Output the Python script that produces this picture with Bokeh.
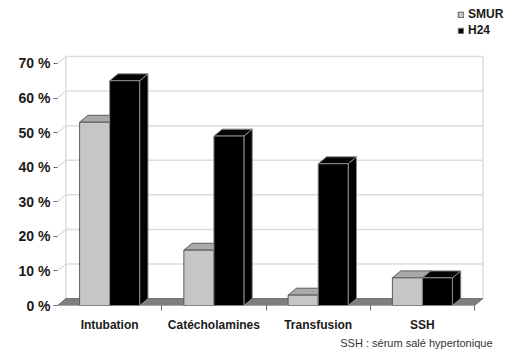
from bokeh.plotting import figure
from bokeh.models import (ColumnDataSource, FixedTicker, Legend, LegendItem,
                          Title, Range1d)
from bokeh.embed import file_html
from bokeh.resources import INLINE

# Share of patients receiving each treatment, by type of care
categories = ["Intubation", "Catécholamines", "Transfusion", "SSH"]
smur = [53, 16, 3, 8]
h24 = [65, 49, 41, 8]
series_names = ["SMUR", "H24"]
y_ticks = [0, 10, 20, 30, 40, 50, 60, 70]
footnote = "SSH : sérum salé hypertonique"

# pseudo-3D geometry (bar width and depth offset in data units)
BAR_W = 0.288
DX, DY = 0.08, 2.0
FONT = "Liberation Sans"

n = len(categories)
p = figure(width=522, height=355, output_backend="svg", toolbar_location=None,
           x_range=Range1d(0, 4.46), y_range=Range1d(0, 88.2),
           min_border_left=57, min_border_right=0, min_border_top=0,
           min_border_bottom=50)
p.outline_line_color = None
p.xgrid.visible = False
p.ygrid.visible = False

# back wall grid lines, side wall diagonals and wall edges
top = y_ticks[-1]
grid = y_ticks[1:]
p.segment(x0=[DX] * len(grid), y0=[v + DY for v in grid],
          x1=[n + DX] * len(grid), y1=[v + DY for v in grid],
          line_color="#dcdcdc", line_width=1.5)
p.segment(x0=[0] * len(grid), y0=grid, x1=[DX] * len(grid),
          y1=[v + DY for v in grid], line_color="#dcdcdc", line_width=1.2)
p.segment(x0=[DX, n + DX], y0=[DY, DY], x1=[DX, n + DX], y1=[top + DY, top + DY],
          line_color="#dcdcdc", line_width=1.5)

# floor
p.patch(x=[0, n, n + DX, DX], y=[0, 0, DY, DY], fill_color="#7f7f7f",
        line_color="#6f6f6f", line_width=1)

styles = [
    dict(front="#c6c6c6", top="#a9a9a9", side="#8e8e8e", line="#5a5a5a"),
    dict(front="#000000", top="#050505", side="#000000", line="#8c8c8c"),
]

fronts = []
for s, vals in enumerate([smur, h24]):
    st = styles[s]
    left = [i + 0.5 - BAR_W + s * BAR_W for i in range(n)]
    right = [l + BAR_W for l in left]
    side_xs = [[r, r + DX, r + DX, r] for r in right]
    side_ys = [[0, DY, v + DY, v] for v in vals]
    top_xs = [[l, r, r + DX, l + DX] for l, r in zip(left, right)]
    top_ys = [[v, v, v + DY, v + DY] for v in vals]
    p.patches(xs=side_xs, ys=side_ys, fill_color=st["side"],
              line_color=st["line"], line_width=1)
    p.patches(xs=top_xs, ys=top_ys, fill_color=st["top"],
              line_color=st["line"], line_width=1)
    src = ColumnDataSource(dict(left=left, right=right, top=vals,
                                bottom=[0] * n))
    r = p.quad(left="left", right="right", top="top", bottom="bottom",
               source=src, fill_color=st["front"], line_color=st["line"],
               line_width=1)
    fronts.append(r)

# y axis
yax = p.yaxis[0]
yax.ticker = FixedTicker(ticks=y_ticks)
yax.major_label_overrides = {v: f"{v} %" for v in y_ticks}
yax.axis_line_color = None
yax.major_tick_out = 4
yax.major_tick_in = 0
yax.major_tick_line_color = "#666666"
yax.minor_tick_line_color = None
yax.major_label_standoff = 3
yax.major_label_text_font = FONT
yax.major_label_text_font_style = "bold"
yax.major_label_text_font_size = "14px"
yax.major_label_text_color = "#1a1a1a"

# x axis: labels at category centres, ticks between categories
xax = p.xaxis[0]
centers = [i + 0.5 for i in range(n)]
xax.ticker = FixedTicker(ticks=centers, minor_ticks=list(range(1, n + 1)))
xax.major_label_overrides = {c: name for c, name in zip(centers, categories)}
xax.axis_line_color = None
xax.major_tick_out = 0
xax.major_tick_in = 0
xax.minor_tick_out = 5
xax.minor_tick_in = 0
xax.minor_tick_line_color = "#666666"
xax.major_label_standoff = 7
xax.major_label_text_font = FONT
xax.major_label_text_font_style = "bold"
xax.major_label_text_font_size = "12px"
xax.major_label_text_color = "#1a1a1a"

legend = Legend(items=[LegendItem(label=series_names[0], renderers=[fronts[0]]),
                       LegendItem(label=series_names[1], renderers=[fronts[1]])],
                location=(400, 268), orientation="vertical",
                glyph_width=7, glyph_height=7, label_standoff=4, spacing=2,
                padding=0, margin=0, label_height=11,
                label_text_font=FONT, label_text_font_style="bold",
                label_text_font_size="12px", label_text_color="#1a1a1a",
                border_line_color=None, background_fill_alpha=0)
p.add_layout(legend)

# footnote under the category labels
p.add_layout(Title(text=footnote, align="right", offset=30, standoff=0,
                   text_font=FONT, text_font_size="11px",
                   text_font_style="normal", text_color="#333333"), "below")

open("out.html", "w").write(file_html(p, INLINE))
